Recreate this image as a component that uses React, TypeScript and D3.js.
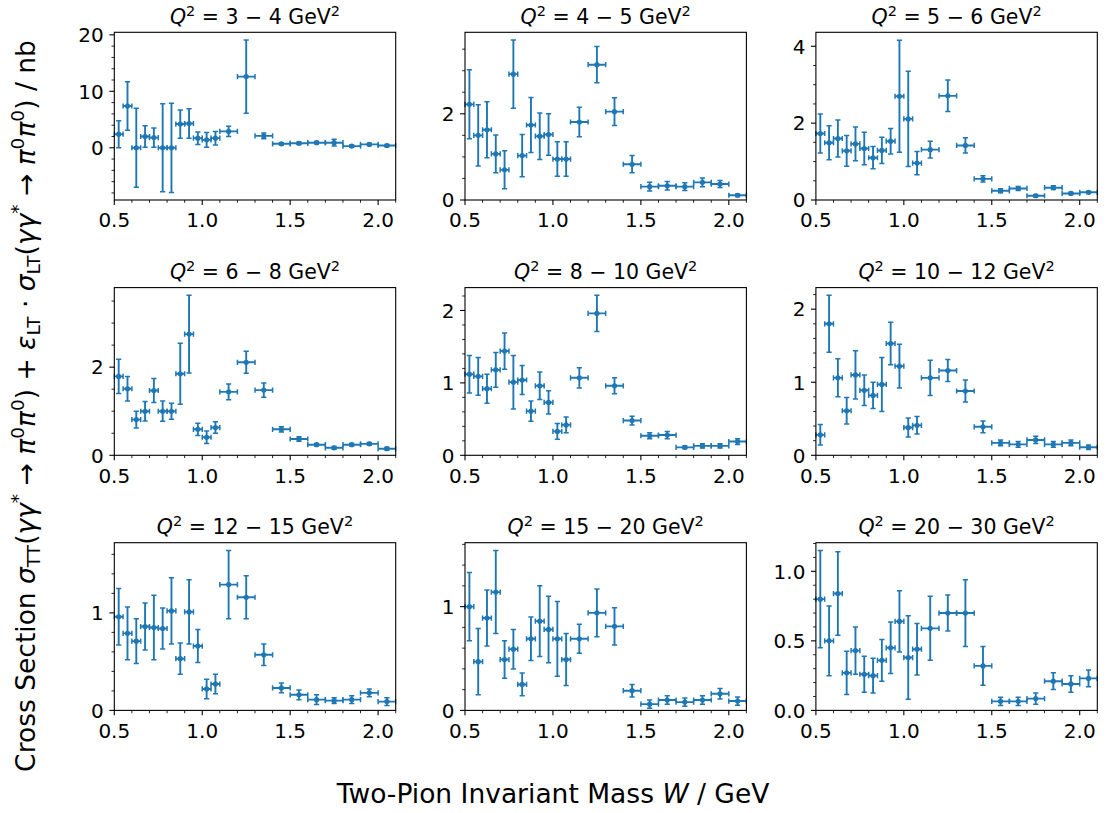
import React from "react";
import * as d3 from "d3";

// ---------- data ----------
const wCenters = [0.525, 0.575, 0.625, 0.675, 0.725, 0.775, 0.825, 0.875, 0.925, 0.975, 1.025, 1.075,
  1.15, 1.25, 1.35, 1.45, 1.55, 1.65, 1.75, 1.85, 1.95, 2.05];
const wHalfWidths = [0.025, 0.025, 0.025, 0.025, 0.025, 0.025, 0.025, 0.025, 0.025, 0.025, 0.025, 0.025,
  0.05, 0.05, 0.05, 0.05, 0.05, 0.05, 0.05, 0.05, 0.05, 0.05];

const q2Ranges = ["3 − 4", "4 − 5", "5 − 6", "6 − 8", "8 − 10", "10 − 12", "12 − 15", "15 − 20", "20 − 30"];

const xs_3_4 = [2.4, 7.4, 0, 2.0, 1.8, 0, 0, 4.2, 4.3, 1.7, 1.4, 1.7, 2.9, 12.6, 2.1, 0.7, 0.8, 0.9, 0.9, 0.3, 0.6, 0.4];
const err_3_4 = [2.4, 4.3, 7.0, 1.9, 1.7, 7.8, 7.9, 2.5, 2.6, 1.1, 1.3, 1.2, 0.9, 6.5, 0.5, 0.2, 0.2, 0.2, 0.6, 0.2, 0.2, 0.2];

const xs_4_5 = [2.22, 1.50, 1.63, 1.07, 0.70, 2.92, 1.03, 1.74, 1.48, 1.52, 0.95, 0.95, 1.81, 3.14, 2.05, 0.83, 0.31, 0.33, 0.31, 0.41, 0.37, 0.11];
const err_4_5 = [0.80, 0.71, 0.65, 0.44, 0.44, 0.79, 0.49, 0.64, 0.54, 0.48, 0.40, 0.40, 0.34, 0.42, 0.32, 0.20, 0.10, 0.10, 0.09, 0.10, 0.08, 0.03];

const xs_5_6 = [1.73, 1.49, 1.60, 1.28, 1.46, 1.34, 1.10, 1.29, 1.53, 2.70, 2.11, 0.96, 1.31, 2.71, 1.42, 0.55, 0.24, 0.30, 0.11, 0.32, 0.17, 0.20];
const err_5_6 = [0.51, 0.44, 0.48, 0.40, 0.44, 0.42, 0.29, 0.34, 0.33, 1.46, 1.24, 0.30, 0.22, 0.41, 0.20, 0.08, 0.05, 0.05, 0.03, 0.05, 0.03, 0.03];

const xs_6_8 = [1.79, 1.51, 0.81, 1.00, 1.47, 1.00, 1.00, 1.85, 2.75, 0.59, 0.41, 0.63, 1.44, 2.11, 1.48, 0.59, 0.37, 0.24, 0.17, 0.24, 0.26, 0.15];
const err_6_8 = [0.39, 0.28, 0.19, 0.22, 0.27, 0.23, 0.18, 0.69, 0.88, 0.14, 0.14, 0.13, 0.18, 0.25, 0.16, 0.06, 0.05, 0.03, 0.03, 0.03, 0.03, 0.03];

const xs_8_10 = [1.12, 1.09, 0.92, 1.18, 1.44, 1.01, 1.04, 0.61, 0.96, 0.73, 0.33, 0.42, 1.07, 1.96, 0.96, 0.48, 0.27, 0.28, 0.11, 0.13, 0.13, 0.19];
const err_8_10 = [0.26, 0.26, 0.20, 0.24, 0.25, 0.37, 0.20, 0.14, 0.19, 0.16, 0.11, 0.11, 0.14, 0.25, 0.11, 0.06, 0.04, 0.05, 0.02, 0.03, 0.03, 0.04];

const xs_10_12 = [0.28, 1.80, 1.06, 0.61, 1.10, 0.89, 0.82, 0.97, 1.53, 1.22, 0.38, 0.41, 1.06, 1.16, 0.88, 0.39, 0.17, 0.15, 0.21, 0.15, 0.17, 0.11];
const err_10_12 = [0.14, 0.39, 0.26, 0.18, 0.33, 0.21, 0.18, 0.37, 0.29, 0.30, 0.13, 0.12, 0.24, 0.15, 0.15, 0.08, 0.04, 0.04, 0.05, 0.04, 0.04, 0.03];

const xs_12_15 = [0.96, 0.79, 0.71, 0.86, 0.85, 0.84, 1.02, 0.53, 1.01, 0.66, 0.22, 0.27, 1.29, 1.16, 0.57, 0.23, 0.16, 0.11, 0.10, 0.11, 0.18, 0.09];
const err_12_15 = [0.29, 0.27, 0.23, 0.24, 0.33, 0.21, 0.34, 0.16, 0.33, 0.17, 0.10, 0.10, 0.35, 0.22, 0.11, 0.05, 0.05, 0.05, 0.03, 0.04, 0.04, 0.04];

const xs_15_20 = [1.00, 0.47, 0.89, 1.14, 0.49, 0.59, 0.25, 0.69, 0.86, 0.78, 0.69, 0.49, 0.69, 0.94, 0.81, 0.19, 0.06, 0.10, 0.08, 0.10, 0.16, 0.09];
const err_15_20 = [0.33, 0.32, 0.27, 0.40, 0.18, 0.19, 0.11, 0.21, 0.34, 0.32, 0.36, 0.25, 0.14, 0.23, 0.18, 0.06, 0.04, 0.04, 0.04, 0.04, 0.05, 0.04];

const xs_20_30 = [0.80, 0.50, 0.84, 0.27, 0.43, 0.26, 0.25, 0.36, 0.45, 0.64, 0.38, 0.44, 0.59, 0.70, 0.70, 0.32, 0.065, 0.065, 0.085, 0.21, 0.19, 0.23];
const err_20_30 = [0.35, 0.25, 0.30, 0.155, 0.17, 0.13, 0.125, 0.15, 0.185, 0.22, 0.30, 0.185, 0.23, 0.13, 0.24, 0.14, 0.03, 0.03, 0.04, 0.06, 0.06, 0.06];

const xTickValues = [0.5, 1.0, 1.5, 2.0];
const xTickLabels = ["0.5", "1.0", "1.5", "2.0"];
const xMinorStep = 0.1;
const xDomain = [0.5, 2.1];

const yTickValues = [[0, 10, 20], [0, 2], [0, 2, 4], [0, 2], [0, 1, 2], [0, 1, 2], [0, 1], [0, 1], [0, 0.5, 1.0]];
const yTickLabels = [["0", "10", "20"], ["0", "2"], ["0", "2", "4"], ["0", "2"], ["0", "1", "2"], ["0", "1", "2"], ["0", "1"], ["0", "1"], ["0.0", "0.5", "1.0"]];
const yMinorSteps = [2, 0.5, 0.5, 0.5, 0.2, 0.2, 0.2, 0.2, 0.1];

const seriesValues = [xs_3_4, xs_4_5, xs_5_6, xs_6_8, xs_8_10, xs_10_12, xs_12_15, xs_15_20, xs_20_30];
const seriesErrors = [err_3_4, err_4_5, err_5_6, err_6_8, err_8_10, err_10_12, err_12_15, err_15_20, err_20_30];

// ---------- layout ----------
const FIG_W = 1109;
const FIG_H = 813;
const AX_W = 281.4;
const AX_H = 167.7;
const colLefts = [114.3, 465.0, 815.9];
const rowTops = [32.3, 287.6, 542.7];
const COLOR = "#1f77b4";
const FONT = "DejaVu Sans, sans-serif";

function Panel({ idx }: { idx: number }) {
  const left = colLefts[idx % 3];
  const top = rowTops[Math.floor(idx / 3)];
  const vals = seriesValues[idx];
  const errs = seriesErrors[idx];
  const lo = d3.min(vals.map((v, i) => v - errs[i])) as number;
  const hi = d3.max(vals.map((v, i) => v + errs[i])) as number;
  const pad = 0.05 * (hi - lo);
  const y0 = lo < 0 ? lo - pad : 0;
  const y1 = hi + pad;

  const x = d3.scaleLinear().domain(xDomain).range([0, AX_W]);
  const y = d3.scaleLinear().domain([y0, y1]).range([AX_H, 0]);

  const xMinor = d3.range(Math.round(xDomain[0] / xMinorStep), Math.round(xDomain[1] / xMinorStep) + 1)
    .map((k) => k * xMinorStep)
    .filter((v) => !xTickValues.some((t) => Math.abs(t - v) < 1e-9));
  const ms = yMinorSteps[idx];
  const yMinor = d3.range(Math.ceil(y0 / ms - 1e-9), Math.floor(y1 / ms + 1e-9) + 1)
    .map((k) => k * ms)
    .filter((v) => !yTickValues[idx].some((t) => Math.abs(t - v) < 1e-9));

  const cap = 2.6;
  const clipId = `clip${idx}`;

  return (
    <g transform={`translate(${left},${top})`}>
      <defs>
        <clipPath id={clipId}>
          <rect x={-1} y={-1} width={AX_W + 2} height={AX_H + 2} />
        </clipPath>
      </defs>
      {/* title */}
      <text x={AX_W / 2} y={-8.5} textAnchor="middle" fontFamily={FONT} fontSize={20.5} fill="#000">
        <tspan fontStyle="italic">Q</tspan>
        <tspan fontSize={14.5} dy={-8}>2</tspan>
        <tspan dy={8}>{` = ${q2Ranges[idx]} GeV`}</tspan>
        <tspan fontSize={14.5} dy={-8}>2</tspan>
      </text>
      {/* data */}
      <g clipPath={`url(#${clipId})`}>
        {vals.map((v, i) => {
          const cx = x(wCenters[i]);
          const cy = y(v);
          const xl = x(wCenters[i] - wHalfWidths[i]);
          const xr = x(wCenters[i] + wHalfWidths[i]);
          const yt = y(v + errs[i]);
          const yb = y(v - errs[i]);
          return (
            <g key={i} stroke={COLOR} strokeWidth={1.9} fill="none">
              <line x1={cx} x2={cx} y1={yt} y2={yb} />
              <line x1={xl} x2={xr} y1={cy} y2={cy} />
              <line x1={cx - cap} x2={cx + cap} y1={yt} y2={yt} strokeWidth={1.5} />
              <line x1={cx - cap} x2={cx + cap} y1={yb} y2={yb} strokeWidth={1.5} />
              <line x1={xl} x2={xl} y1={cy - cap} y2={cy + cap} strokeWidth={1.5} />
              <line x1={xr} x2={xr} y1={cy - cap} y2={cy + cap} strokeWidth={1.5} />
              <circle cx={cx} cy={cy} r={2.6} fill={COLOR} stroke="none" />
            </g>
          );
        })}
      </g>
      {/* ticks */}
      <g stroke="#000">
        {xTickValues.map((t, i) => (
          <line key={"xm" + i} x1={x(t)} x2={x(t)} y1={AX_H} y2={AX_H + 4.9} strokeWidth={1.1} />
        ))}
        {xMinor.map((t, i) => (
          <line key={"xn" + i} x1={x(t)} x2={x(t)} y1={AX_H} y2={AX_H + 2.8} strokeWidth={0.85} />
        ))}
        {yTickValues[idx].map((t, i) => (
          <line key={"ym" + i} x1={0} x2={-4.9} y1={y(t)} y2={y(t)} strokeWidth={1.1} />
        ))}
        {yMinor.map((t, i) => (
          <line key={"yn" + i} x1={0} x2={-2.8} y1={y(t)} y2={y(t)} strokeWidth={0.85} />
        ))}
      </g>
      {xTickValues.map((t, i) => (
        <text key={"xl" + i} x={x(t)} y={AX_H + 27.5} textAnchor="middle" fontFamily={FONT} fontSize={20} fill="#000">
          {xTickLabels[i]}
        </text>
      ))}
      {yTickValues[idx].map((t, i) => (
        <text key={"yl" + i} x={-10.5} y={y(t) + 7.3} textAnchor="end" fontFamily={FONT} fontSize={20} fill="#000">
          {yTickLabels[idx][i]}
        </text>
      ))}
      {/* frame */}
      <rect x={0} y={0} width={AX_W} height={AX_H} fill="none" stroke="#000" strokeWidth={1.1} />
    </g>
  );
}

export default function App() {
  const lblSize = 26.5;
  const small = 18.5;
  const sup = -10.5;
  const sub = 5.5;
  const G = (s: string) => <tspan fontStyle="italic">{s}</tspan>;
  return (
    <div style={{ position: "absolute", left: 0, top: 0, width: FIG_W, height: FIG_H, background: "#fff" }}>
      <svg width={FIG_W} height={FIG_H} viewBox={`0 0 ${FIG_W} ${FIG_H}`} style={{ display: "block" }}>
        <rect x={0} y={0} width={FIG_W} height={FIG_H} fill="#fff" />
        {q2Ranges.map((_, i) => (
          <Panel key={i} idx={i} />
        ))}
        <text x={553} y={803} textAnchor="middle" fontFamily={FONT} fontSize={lblSize} fill="#000">
          <tspan>Two-Pion Invariant Mass </tspan>
          <tspan fontStyle="italic">W</tspan>
          <tspan> / GeV</tspan>
        </text>
        <text
          transform="translate(34.5,406) rotate(-90)"
          textAnchor="middle"
          fontFamily={FONT}
          fontSize={lblSize}
          fill="#000"
        >
          <tspan>Cross Section </tspan>
          {G("σ")}
          <tspan fontSize={small} dy={sub}>TT</tspan>
          <tspan dy={-sub}>(</tspan>
          {G("γγ")}
          <tspan fontSize={small} dy={sup}>*</tspan>
          <tspan dy={-sup}> → </tspan>
          {G("π")}
          <tspan fontSize={small} dy={sup}>0</tspan>
          <tspan dy={-sup} fontStyle="italic">π</tspan>
          <tspan fontSize={small} dy={sup}>0</tspan>
          <tspan dy={-sup}>) + </tspan>
          {G("ε")}
          <tspan fontSize={small} dy={sub}>LT</tspan>
          <tspan dy={-sub}> · </tspan>
          {G("σ")}
          <tspan fontSize={small} dy={sub}>LT</tspan>
          <tspan dy={-sub}>(</tspan>
          {G("γγ")}
          <tspan fontSize={small} dy={sup}>*</tspan>
          <tspan dy={-sup}> → </tspan>
          {G("π")}
          <tspan fontSize={small} dy={sup}>0</tspan>
          <tspan dy={-sup} fontStyle="italic">π</tspan>
          <tspan fontSize={small} dy={sup}>0</tspan>
          <tspan dy={-sup}>) / nb</tspan>
        </text>
      </svg>
    </div>
  );
}
